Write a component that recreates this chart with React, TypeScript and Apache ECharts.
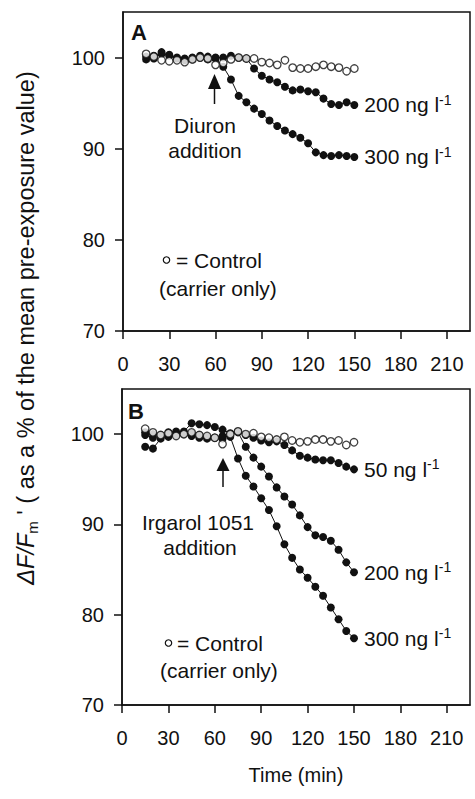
import React, { useEffect, useRef } from 'react';
import * as echarts from 'echarts';

const times = [15, 20, 25, 30, 35, 40, 45, 50, 55, 60, 65, 70, 75, 80, 85, 90, 95, 100, 105, 110, 115, 120, 125, 130, 135, 140, 145, 150];

const ctrlA = [100.4, 100.1, 99.7, 99.6, 99.7, 99.5, 99.8, 100.0, 99.9, 99.2, 99.4, 99.8, 100.0, 99.9, 99.9, 99.5, 99.4, 99.2, 99.7, 98.9, 98.8, 98.8, 99.0, 99.2, 99.0, 98.9, 98.5, 98.8];
const diuron200 = [99.8, 100.2, 100.4, 100.3, 100.0, 99.9, 99.8, 100.0, 100.1, 100.0, 100.0, 100.2, 100.0, 99.9, 98.8, 98.0, 97.6, 97.3, 96.8, 96.4, 96.5, 96.3, 96.2, 95.5, 94.9, 94.8, 95.1, 94.8];
const diuron300 = [100.1, 99.9, 100.6, 100.2, 99.9, 99.7, 100.0, 100.2, 99.8, 99.9, 99.0, 97.6, 95.8, 95.1, 94.4, 93.8, 93.1, 92.5, 92.0, 91.6, 91.2, 90.6, 89.6, 89.3, 89.2, 89.3, 89.2, 89.1];

const ctrlB = [100.6, 100.2, 99.9, 100.1, 99.8, 100.0, 100.2, 99.9, 99.8, 99.6, 98.9, 100.0, 100.3, 100.0, 100.1, 99.7, 99.6, 99.4, 99.7, 99.3, 99.1, 99.2, 99.4, 99.4, 99.2, 99.3, 98.8, 99.1];
const irgarol50 = [99.9, 99.6, 99.8, 99.9, 100.0, 100.3, 101.2, 101.1, 101.0, 100.8, 100.5, 100.1, 100.3, 99.9, 99.6, 99.3, 99.1, 99.2, 98.8, 98.2, 97.6, 97.4, 97.2, 97.1, 97.1, 96.8, 96.4, 96.1];
const irgarol200 = [98.6, 98.4, 99.5, 99.7, 99.9, 100.0, 100.1, 99.9, 99.7, 99.6, 99.5, 99.9, 100.2, 98.6, 97.4, 96.4, 95.3, 94.1, 93.1, 92.2, 91.0, 89.7, 88.8, 88.6, 88.2, 87.2, 85.8, 84.7];
const irgarol300 = [100.2, 100.0, 99.9, 100.2, 100.3, 100.0, 99.8, 99.6, 99.5, 99.6, 99.8, 99.7, 97.3, 95.4, 94.2, 92.9, 91.6, 89.8, 87.8, 86.3, 85.0, 84.1, 83.1, 82.1, 80.8, 79.5, 78.2, 77.4];

const xTicks = [0, 30, 60, 90, 120, 150, 180, 210];
const yTicks = [70, 80, 90, 100];

const FONT = '"Liberation Sans", Arial, Helvetica, sans-serif';
const INK = '#111';

export default function App() {
  const ref = useRef<HTMLDivElement>(null);
  useEffect(() => {
    const chart = echarts.init(ref.current!, null, { renderer: 'svg' });
    const zip = (ys: number[]) => times.map((t, i) => [t, ys[i]]);

    const xAxis = (gi: number, name?: string) => ({
      type: 'value', gridIndex: gi, min: 0, max: 225, interval: 30,
      name: name || '', nameLocation: 'middle', nameGap: 60,
      nameTextStyle: { fontSize: 20, color: INK, fontFamily: FONT },
      axisLine: { show: true, lineStyle: { color: INK, width: 1.5 } },
      axisTick: { show: true, inside: false, length: 8, lineStyle: { color: INK, width: 1.5 }, customValues: xTicks },
      axisLabel: { show: true, fontSize: 20, color: INK, fontFamily: FONT, margin: 23, customValues: xTicks },
      splitLine: { show: false },
    });
    const yAxis = (gi: number) => ({
      type: 'value', gridIndex: gi, min: 70, max: 105, interval: 10,
      axisLine: { show: true, lineStyle: { color: INK, width: 1.5 } },
      axisTick: { show: true, inside: false, length: 8, lineStyle: { color: INK, width: 1.5 }, customValues: yTicks },
      axisLabel: { show: true, fontSize: 20, color: INK, fontFamily: FONT, margin: 18, customValues: yTicks },
      splitLine: { show: false },
    });

    const lbl = (conc: string) => ({
      show: true, distance: 10, color: INK,
      formatter: `{a|${conc} ng l}{s|-1}`,
      rich: {
        a: { fontSize: 21, fontFamily: FONT, color: INK, lineHeight: 24, verticalAlign: 'middle' },
        s: { fontSize: 14, fontFamily: FONT, color: INK, lineHeight: 14, verticalAlign: 'top' },
      },
    });
    const filled = (gi: number, ys: number[], conc: string) => ({
      type: 'line', xAxisIndex: gi, yAxisIndex: gi, data: zip(ys),
      symbol: 'circle', symbolSize: 8, showSymbol: true,
      itemStyle: { color: INK }, lineStyle: { color: INK, width: 1 },
      endLabel: lbl(conc), z: 2, silent: true,
    });
    const ctrl = (gi: number, ys: number[]) => ({
      type: 'scatter', xAxisIndex: gi, yAxisIndex: gi, data: zip(ys),
      symbol: 'circle', symbolSize: 7.5,
      itemStyle: { color: '#fff', borderColor: INK, borderWidth: 1.3 }, z: 3, silent: true,
    });

    const txt = (x: number, y: number, text: string, align = 'center', extra: any = {}) => ({
      type: 'text', x, y,
      style: { text, fontSize: 21, fontFamily: FONT, fill: INK, align, verticalAlign: 'middle', ...extra },
    });
    const arrow = (x: number, tip: number, base: number, end: number) => [
      { type: 'polygon', shape: { points: [[x, tip], [x - 6.5, base], [x + 6.5, base]] }, style: { fill: INK } },
      { type: 'line', shape: { x1: x, y1: base, x2: x, y2: end }, style: { stroke: INK, lineWidth: 1.5 } },
    ];
    const legend = (cx: number, cy: number, tx: number, cy2: number, tx2: number) => [
      { type: 'circle', shape: { cx, cy, r: 3.2 }, style: { fill: '#fff', stroke: INK, lineWidth: 1.2 } },
      txt(tx, cy, '= Control', 'left'),
      txt(tx2, cy2, '(carrier only)', 'left'),
    ];

    const option: any = {
      animation: false,
      backgroundColor: '#fff',
      grid: [
        { left: 123, top: 12, right: 5, height: 319, show: true, borderColor: INK, borderWidth: 1.5, containLabel: false },
        { left: 122, top: 389, right: 5, height: 316, show: true, borderColor: INK, borderWidth: 1.5, containLabel: false },
      ],
      xAxis: [xAxis(0), xAxis(1, 'Time (min)')],
      yAxis: [yAxis(0), yAxis(1)],
      series: [
        filled(0, diuron200, '200'),
        filled(0, diuron300, '300'),
        ctrl(0, ctrlA),
        filled(1, irgarol50, '50'),
        filled(1, irgarol200, '200'),
        filled(1, irgarol300, '300'),
        ctrl(1, ctrlB),
      ],
      graphic: [
        txt(131, 32, 'A', 'left', { fontWeight: 'bold', fontSize: 22 }),
        txt(128, 411, 'B', 'left', { fontWeight: 'bold', fontSize: 22 }),
        ...arrow(214.5, 74, 89, 104),
        ...arrow(223, 458, 471, 487),
        txt(205, 125, 'Diuron'),
        txt(205, 150, 'addition'),
        txt(198, 522, 'Irgarol 1051'),
        txt(200, 547, 'addition'),
        ...legend(166.5, 260, 176, 288, 159),
        ...legend(168.5, 643, 177, 670, 160),
        {
          type: 'text', x: 26, y: 328, rotation: Math.PI / 2,
          style: {
            text: "{i|ΔF/F}{s|m}{n| ' ( as a % of the mean pre-exposure value)}",
            align: 'center', verticalAlign: 'middle', fill: INK,
            rich: {
              i: { fontSize: 23.5, fontFamily: FONT, fontStyle: 'italic', fill: INK, lineHeight: 27, verticalAlign: 'middle' },
              s: { fontSize: 15, fontFamily: FONT, fill: INK, lineHeight: 15, verticalAlign: 'bottom' },
              n: { fontSize: 23.5, fontFamily: FONT, fill: INK, lineHeight: 27, verticalAlign: 'middle' },
            },
          },
        },
      ],
    };
    chart.setOption(option);
    return () => chart.dispose();
  }, []);
  return <div ref={ref} style={{ position: 'absolute', left: 0, top: 0, width: 475, height: 799 }} />;
}
